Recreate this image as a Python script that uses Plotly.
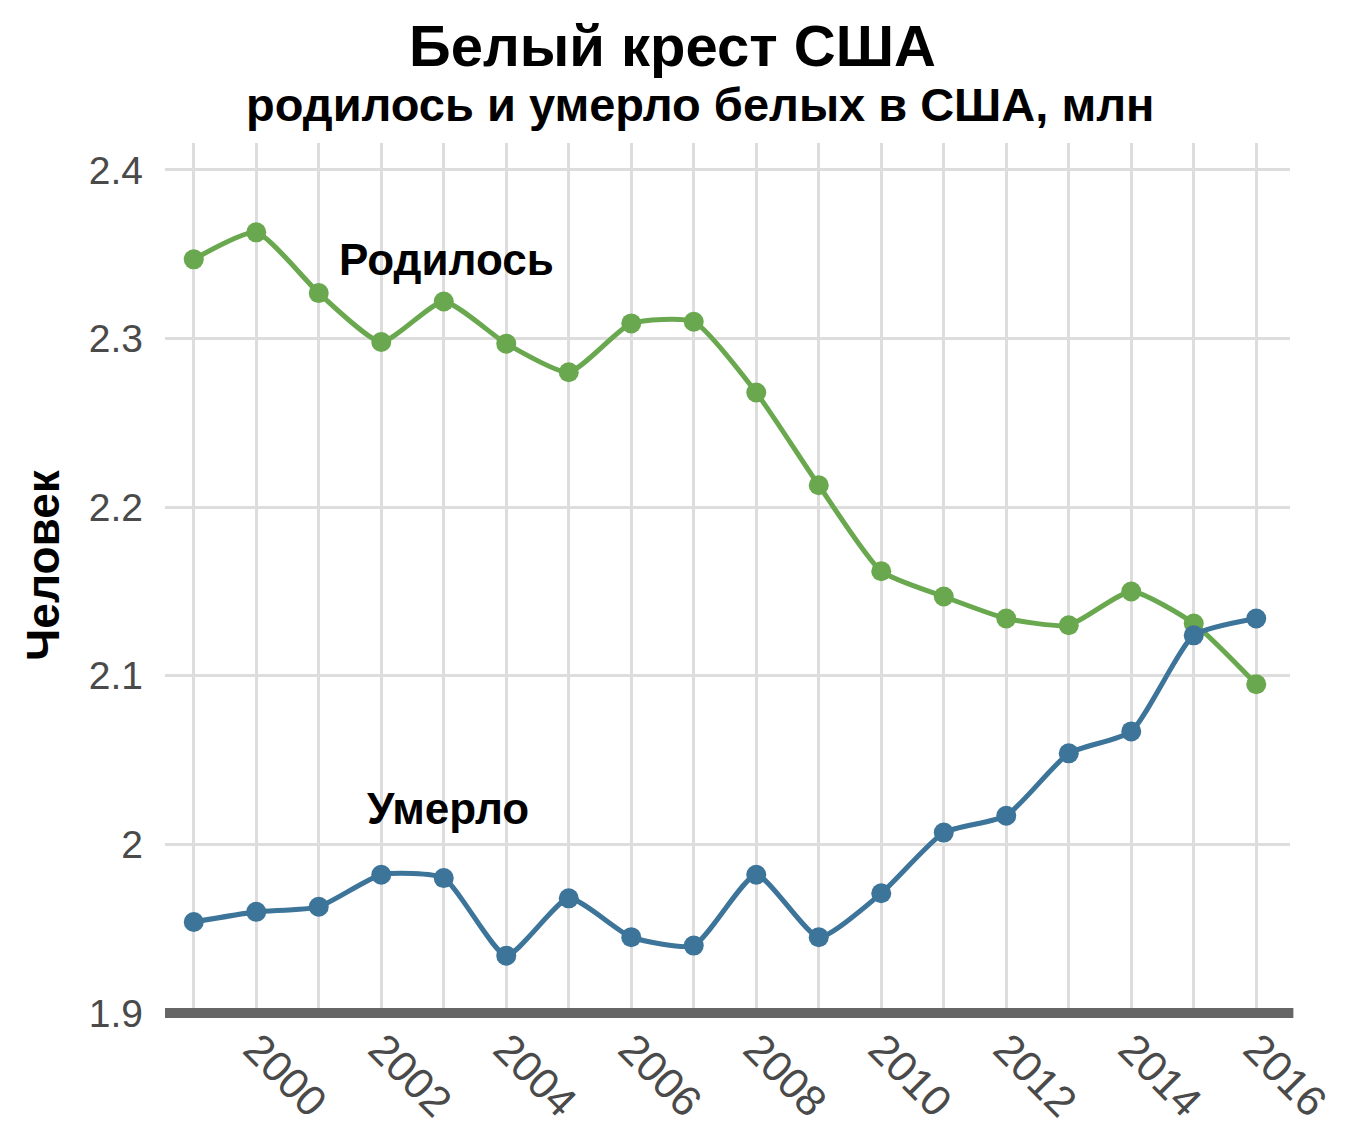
import plotly.graph_objects as go

years = list(range(1999, 2017))
births = [2.347, 2.363, 2.327, 2.298, 2.322, 2.297, 2.280, 2.309, 2.310, 2.268,
          2.213, 2.162, 2.147, 2.134, 2.130, 2.150, 2.131, 2.095]
deaths = [1.954, 1.960, 1.963, 1.982, 1.980, 1.934, 1.968, 1.945, 1.940, 1.982,
          1.945, 1.971, 2.007, 2.017, 2.054, 2.067, 2.124, 2.134]
y_ticks = [1.9, 2.0, 2.1, 2.2, 2.3, 2.4]
y_tick_labels = ['1.9', '2', '2.1', '2.2', '2.3', '2.4']
x_ticks = list(range(2000, 2017, 2))

GREEN = '#6aa84f'
BLUE = '#3d7499'
FONT = 'Liberation Sans, Arial, sans-serif'

fig = go.Figure()
fig.add_trace(go.Scatter(x=years, y=births, mode='lines+markers', name='Родилось',
                         line=dict(color=GREEN, width=5, shape='spline', smoothing=0.55),
                         marker=dict(color=GREEN, size=20)))
fig.add_trace(go.Scatter(x=years, y=deaths, mode='lines+markers', name='Умерло',
                         line=dict(color=BLUE, width=5, shape='spline', smoothing=0.55),
                         marker=dict(color=BLUE, size=20)))

# series labels
fig.add_annotation(x=2003.05, y=2.347, text='<b>Родилось</b>', showarrow=False,
                   xanchor='center', yanchor='middle',
                   font=dict(size=44, color='black'))
fig.add_annotation(x=2003.06, y=2.021, text='<b>Умерло</b>', showarrow=False,
                   xanchor='center', yanchor='middle',
                   font=dict(size=44, color='black'))

# titles
fig.add_annotation(x=0.451, y=1.1126, xref='paper', yref='paper', showarrow=False,
                   xanchor='center', yanchor='middle',
                   text='<b>Белый крест США</b>', font=dict(size=58, color='black'))
fig.add_annotation(x=0.4756, y=1.0448, xref='paper', yref='paper', showarrow=False,
                   xanchor='center', yanchor='middle',
                   text='<b>родилось и умерло белых в США, млн</b>',
                   font=dict(size=47, color='black'))
fig.add_annotation(x=-0.1084, y=0.515, xref='paper', yref='paper', showarrow=False,
                   xanchor='center', yanchor='middle',
                   text='<b>Человек</b>', textangle=-90,
                   font=dict(size=46, color='black'))

# thick base line along the bottom of the plot
fig.add_shape(type='line', xref='paper', yref='paper', x0=0, x1=1.003, y0=0, y1=0,
              line=dict(color='#666666', width=10), layer='above')

# page body adds 8px offset, so margins are trimmed by 8 on top/left
fig.update_layout(
    width=1348, height=1130,
    paper_bgcolor='white', plot_bgcolor='white',
    showlegend=False,
    margin=dict(l=157, r=66, t=135, b=125, autoexpand=False),
    font=dict(family=FONT),
)
fig.update_xaxes(range=[1998.54, 2016.54], tickvals=x_ticks, tickangle=45,
                 showgrid=True, gridcolor='#dddddd', gridwidth=3,
                 tickfont=dict(size=43, color='#4a4a4a'),
                 ticklabelstandoff=1,
                 showline=False, zeroline=False, automargin=False,
                 minor=dict(tickvals=years, showgrid=True, gridcolor='#dddddd', gridwidth=3))
fig.update_yaxes(range=[1.9, 2.416], tickvals=y_ticks, ticktext=y_tick_labels,
                 showgrid=True, gridcolor='#dddddd', gridwidth=3,
                 tickfont=dict(size=39, color='#4a4a4a'),
                 ticklabelstandoff=21,
                 zeroline=False, automargin=False)

fig.write_html('out.html')
